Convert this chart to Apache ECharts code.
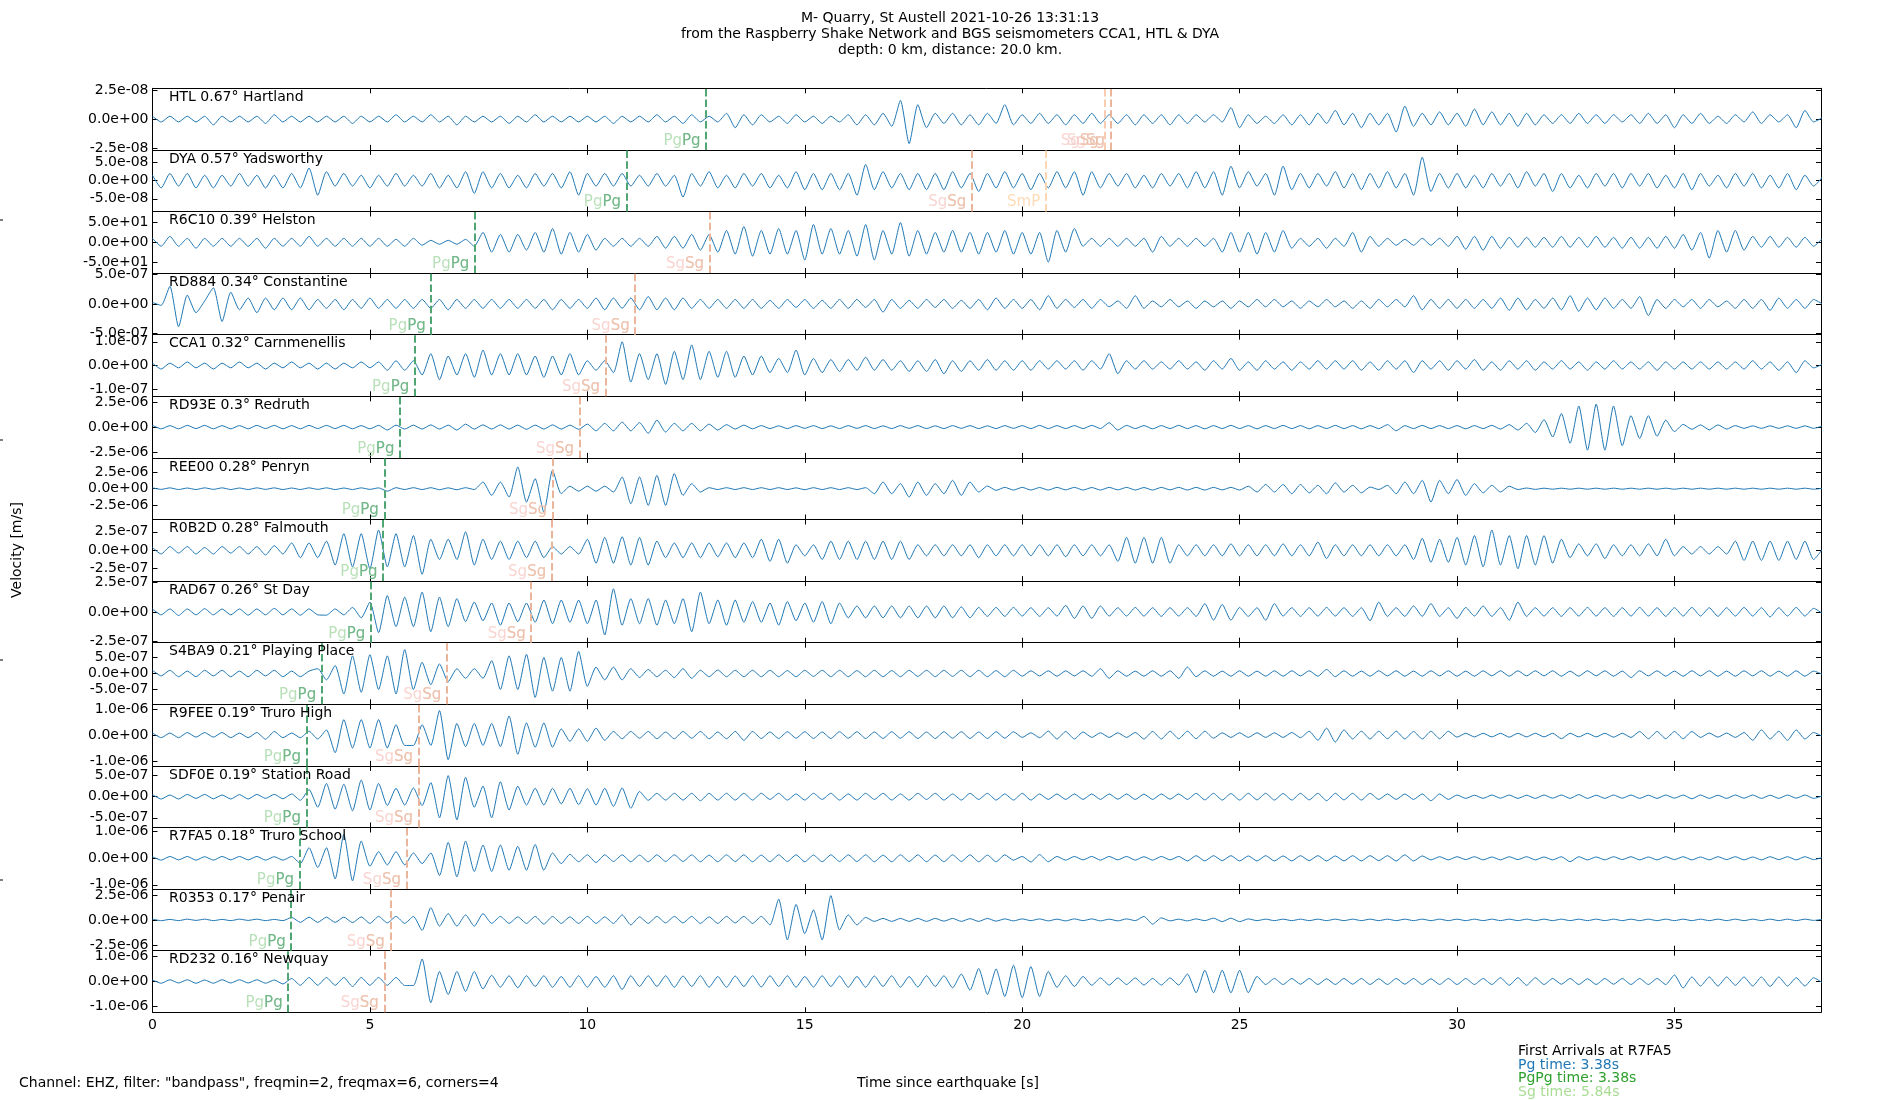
<!DOCTYPE html>
<html><head><meta charset="utf-8">
<script src="https://cdn.jsdelivr.net/npm/echarts@6.0.0/dist/echarts.min.js"></script>
<style>html,body{margin:0;padding:0;background:#fff}#c{width:1900px;height:1100px}</style>
</head><body><div id="c"></div><script>
// ---------- data ----------
const stations = ['HTL 0.67° Hartland','DYA 0.57° Yadsworthy','R6C10 0.39° Helston','RD884 0.34° Constantine','CCA1 0.32° Carnmenellis','RD93E 0.3° Redruth','REE00 0.28° Penryn','R0B2D 0.28° Falmouth','RAD67 0.26° St Day','S4BA9 0.21° Playing Place','R9FEE 0.19° Truro High','SDF0E 0.19° Station Road','R7FA5 0.18° Truro School','R0353 0.17° Penair','RD232 0.16° Newquay'];
const tickValue = [2.5e-8,5e-8,50,5e-7,1e-7,2.5e-6,2.5e-6,2.5e-7,2.5e-7,5e-7,1e-6,5e-7,1e-6,2.5e-6,1e-6];
const limitRatio = [1.07,1.7,1.56,1.05,1.3,1.24,1.84,1.67,1.04,1.92,1.19,1.46,1.16,1.23,1.23];
const pgTime = [12.73,10.9,7.41,6.41,6.03,5.69,5.33,5.3,5.02,3.89,3.54,3.54,3.38,3.19,3.12];
const sgTime = [22.03,18.84,12.81,11.10,10.42,9.82,9.2,9.18,8.71,6.77,6.12,6.12,5.84,5.47,5.33];
const extraSg = [{panel:0, t:21.89}];
const smpArrival = [{panel:1, t:20.54}];
const xTicks = [0,5,10,15,20,25,30,35];
const xMax = 38.37;
const sampleStep = 0.2;   // seconds between samples
const unitDiv = 10;       // trace values are in units of tickValue/10

const trHTL = [
1,-1,1,-1,1,-1,1,-2,1,-1,
1,-1,1,-1.5,1.5,-1,1,-1,1,-1,
1,-1,1,-1.5,1,-1,1,-1,1.5,-1,
1,-1,1.5,-1,1,-2,1,-1,1,-1,
1,-1.5,1,-1,1.5,-1,1,-1,1,-1,
1,-1,1,-1.5,1,-1,1,-1,1.5,-1,
1,-1.5,1.5,-1,1,-1,2,-3,1.5,-2,
1.5,-1,1,-1.5,1.5,-1,1,-1.5,1,-1,
1.5,-2,1.5,-2,2,-2.5,6.5,-8.5,5,-3,
2,-1.5,2,-2,1.5,-2,2,-1.5,5,-2,
1.5,-1.5,2,-1.5,1.5,-2,1.5,-1.5,2,-1.5,
1.5,-1.5,1.5,-2,1.5,-1.5,1.5,-2,1.5,-1.5,
1.5,-1,1.5,-1,4,-3,1.5,-1.5,1,-1.5,
1.5,-2,1.5,-2,2,-1.5,3,-2,2,-3,
2,-2,2,-4.5,4.5,-2.5,2,-2,2.5,-2,
2,-2.5,3.5,-2,2.5,-2,2,-2.5,2,-2,
1.5,-1.5,1.5,-1.5,2,-1.5,1.5,-1.5,1.5,-1,
1.5,-1.5,2,-1.5,1.5,-3,1.5,-1.5,2,-1.5,
1,-1.5,1.5,-1,2.5,-1.5,1.5,-1,1.5,-3,
3,-1,0.5];
const trDYA = [
3,-4,4,-3,4,-4,3,-4,3,-3,
4,-3,3,-4,3,-4,4,-4,7,-8,
5,-3,4,-3,3,-4,3,-3,4,-3,
3,-3,4,-4,3,-4,5,-7,5,-4,
4,-4,3,-4,4,-3,4,-4,5,-8,
4,-3,4,-3,4,-3,3,-3,4,-3,
3,-9,4,-3,5,-4,3,-4,4,-3,
4,-4,3,-4,5,-5,4,-5,4,-5,
4,-8,9,-5,5,-4,4,-5,4,-5,
4,-5,5,-4,4,-6,4,-4,5,-4,
4,-5,4,-4,5,-4,5,-8,5,-4,
4,-3,4,-4,3,-4,4,-3,4,-4,
5,-4,5,-8,8,-4,5,-3,4,-8,
8,-5,4,-4,4,-3,5,-4,4,-5,
4,-4,5,-4,4,-8,13,-6,4,-4,
4,-4,3,-4,4,-3,4,-4,5,-3,
4,-6,4,-4,3,-4,4,-3,4,-4,
4,-3,4,-4,3,-4,4,-5,4,-3,
3,-4,4,-3,4,-4,3,-4,4,-5,
3,-3,2];
const trR6C10 = [
2,-2,3,-2,2,-3,2,-2,2,-2,
2,-2,2,-3,2,-2,2,-2,3,-2,
2,-2,2,-2,2,-2,2,-2,1.5,-2,
2,-1.5,1,-1,1,-1,1.5,-2,5,-5,
4,-5,4,-4,5,-5,7,-6,5,-5,
4,-4,2,-2,2,-2,2,-2,3,-3,
3,-3,4,-4,4,-5,6,-6,8,-7,
6,-6,7,-6,6,-9,9,-6,7,-6,
6,-7,9,-9,6,-6,10,-7,6,-6,
5,-5,6,-5,5,-6,5,-5,6,-6,
5,-6,5,-10,6,-5,7,-2,2,-2,
2,-2,2,-2,2,-5,3,-2,2,-2,
2,-2,2,-5,5,-5,5,-6,5,-5,
6,-3,2,-2,2,-3,2,-2,5,-5,
3,-2,2,-1.5,1.5,-1.5,2,-1.5,2,-2,
3,-3.5,3,-4,3,-3,2.5,-2.5,2.5,-2.5,
2.5,-2.5,3,-2.5,2.5,-2.5,3,-2.5,2.5,-3,
2.5,-3,2.5,-3,3,-3,4,-4,5,-8,
6,-5,6,-4,3,-2.5,3,-2.5,2.5,-2.5,
2.5,-2,2];
const trRD884 = [
0.5,-0.5,6,-7.8,3,-3,1,5.5,-6,4,
-2,2,-3,2,-2,2,-2,2,-2,1.5,
-1.5,1.5,-2,1.5,-1.5,2,-1.5,1.5,-1.5,1.5,
-1.5,1.5,-1.5,1.5,-2,1.5,-1.5,1.5,-1.5,1.5,
-1.5,1.5,-1.5,1.5,-1.5,1.5,-2,1.5,-1.5,1.5,
-1.5,2,-2,2,-1.5,2,-2,2.5,-2,2,
-2,2,-1.5,1.5,-1.5,1.5,-1.5,1.5,-1.5,1.5,
-1.5,1.2,-1.5,1.5,-1.2,1.5,-1.5,1.2,-1.5,1.5,
-1.5,1.5,-1.2,1.5,-2.8,1.5,-1.5,1.2,-1.5,1.5,
-1.2,1.5,-1.5,1.2,-1.5,1.5,-2,2,-1.5,1.5,
-1.5,1.5,-2,2.8,-1.5,1.5,-1.2,1.5,-1.5,1.5,
-1,1,-1.5,2.8,-1.5,1,-1,1.5,-1,1,
-1.5,1,-1,1,-1.5,1,-1,1.5,-1,1.5,
-1,1,-1.5,1,-1,1.5,-1,1,-1.5,1,
-1.5,1.5,-1,1.5,-1,2.8,-2,1.5,-1.5,1.5,
-1.5,1.5,-1.5,1.5,-1.5,2,-2.2,2,-2,1.5,
-1.5,2,-2,2.8,-2.5,2,-2,2,-1.5,1.5,
-1.5,2.5,-4,1.5,-1.5,1.5,-1,1.5,-1.5,1.5,
-1,1,-1.5,1.5,-1.5,1.5,-2.2,2,-1.5,1.5,
-1.5,1.5,0];
const trCCA1 = [
1,-1.5,1,-1,1.5,-1,1,-1.5,1,-1,
1.5,-1,1,-1.5,1,-1,1.5,-1,1,-1.5,
1,-1.5,1,-1,1.5,-1,1.5,-2,2,-2,
2,-4,5,-6,4,-4,5,-5,6.5,-4,
5,-4,5,-4,4,-5,4,-4,5,-4,
2,-2,2,-3,10,-7,5,-6,5,-8,
6,-6,8.7,-6,6,-5,6,-5,4,-4,
4,-3,3,-3,6.5,-4,3,-3,2.5,-2.5,
2.5,-2,3.5,-2,2.5,-2,2,-2.5,2,-2.5,
2.5,-3.5,2,-2.5,2,-2,2.5,-2,2,-2,
2,-2,2,-1.5,2,-1.5,2,-2,2,-1.5,
5,-3.5,2,-1.5,2,-1.5,1.5,-1.5,2,-1.5,
1.5,-2,2,-1.5,3,-2,1.5,-2,2,-1.5,
1.5,-2,1.5,-1.5,2,-1.5,2,-1.5,2,-2,
1.5,-2,2,-1.5,2,-3,2,-1.5,2,-2,
2,-1.5,2.5,-2,1.5,-2,2,-1.5,2,-2,
1.5,-1.5,2,-1.5,1.5,-2,1.5,-1.5,2,-1.5,
1.5,-1.5,1.5,-2,1.5,-1.5,1.5,-1.5,1.5,-1.5,
1.5,-1.5,1.5,-1.5,2,-1.5,1.5,-2,1.5,-3,
2,-1,0.5];
const trRD93E = [
0.7,-0.7,0.6,-0.7,0.7,-0.6,0.7,-0.7,0.6,-0.7,
0.6,-0.7,0.7,-0.6,0.7,-0.7,0.6,-0.7,0.7,-0.6,
0.7,-0.6,0.7,-0.7,0.6,-0.7,0.7,-1.2,0.8,-0.8,
0.8,-0.8,0.9,-0.8,0.8,-1.2,1.2,-0.8,0.9,-0.8,
0.9,-0.8,0.8,-0.9,0.8,-0.8,0.9,-0.8,0.8,-0.9,
1.2,-1.5,1.5,-1.5,2,-1.5,1.8,-2.5,2.8,-2,
1.5,-1.5,1.5,-1.5,1.2,-1.2,1,-0.8,0.8,-0.7,
0.6,-0.6,0.5,-0.6,0.6,-0.5,0.6,-0.6,0.5,-0.6,
0.6,-0.5,0.6,-0.6,0.5,-0.6,0.6,-0.5,0.6,-0.6,
0.5,-0.6,0.6,-0.5,0.6,-0.6,0.5,-0.6,0.6,-0.5,
0.6,-0.6,0.7,-0.6,0.6,-0.6,0.6,-0.6,0.7,-0.6,
1.8,-1.2,0.7,-0.6,0.6,-0.7,0.6,-0.6,0.7,-0.6,
0.6,-0.7,0.6,-0.6,0.7,-0.6,0.6,-0.7,0.6,-0.6,
0.7,-0.6,0.6,-0.7,0.6,-0.6,0.7,-0.6,0.6,-0.7,
0.6,-0.6,1,-1.5,0.6,-0.6,0.7,-0.6,0.6,-0.6,
0.6,-0.7,0.6,-0.6,0.7,-0.8,1,-1.2,1.5,-2.2,
3,-4,5.5,-6.5,8.5,-9.3,9.3,-9.3,8.5,-7.5,
4.6,-4.6,4.6,-3.7,2.8,-1.8,1.1,-0.9,0.9,-1.1,
0.9,-0.8,0.6,-0.5,0.5,-0.5,0.5,-0.5,0.5,-0.5,
0.5,-0.5,0.4];
const trREE00 = [
0.5,-0.4,0.5,-0.5,0.4,-0.5,0.5,-0.4,0.5,-0.5,
0.4,-0.5,0.5,-0.4,0.5,-0.5,0.4,-0.5,0.5,-0.4,
0.5,-0.5,0.4,-0.5,0.5,-0.4,0.5,-1.5,0.6,-0.5,
0.6,-0.5,0.6,-0.6,0.5,-0.6,0.6,-0.5,4,-4,
4,-5,13,-8,6,-14,11,-3,1.5,-1.5,
1.5,-1.5,1.5,-2,7,-9,7,-10,8,-10,
9,-4,3,-2,0.6,-0.5,0.6,-0.5,0.6,-0.5,
0.6,-0.5,0.6,-0.5,0.5,-0.6,0.6,-0.5,0.6,-0.5,
0.6,-0.5,0.6,-3,4,-3,3,-5,4,-4,
3,-3,5,-4,4,-2,1.6,-1,0.8,-0.8,
0.8,-0.8,0.7,-0.8,0.8,-0.7,0.8,-0.8,0.7,-0.8,
0.8,-0.7,0.8,-0.8,0.7,-0.8,0.8,-0.7,0.8,-0.8,
0.8,-0.8,0.8,-0.7,0.8,-0.8,1.5,-2,2.5,-2,
2.5,-3,2.5,-2.5,2,-3,3.5,-2,2,-2.5,
1,-0.5,2,-3,4,-3,5,-8,5,-3,
5.5,-4,3,-2.5,2,-2,1.5,-0.5,0.4,-0.4,
0.3,-0.3,0.3,-0.3,0.3,-0.3,0.3,-0.3,0.3,-0.3,
0.3,-0.3,0.3,-0.3,0.3,-0.3,0.3,-0.3,0.3,-0.3,
0.3,-0.3,0.3,-0.3,0.3,-0.3,0.3,-0.3,0.3,-0.3,
0.3,-0.3,0.2];
const trR0B2D = [
1.5,-2,2,-1.5,2,-2,1.5,-2,2,-1.5,
2,-2,2,-2.5,2.5,-2,4,-4,4,-4,
5,-8,9,-9,9,-10,11,-9,9,-9,
8,-13,6,-5,6,-5,10,-8,6,-5,
5,-5,5,-4,5,-4,2,-2,2,-2,
6,-7,7,-7,7.4,-8,7,-8,5,-4,
4,-4,4,-4,4,-3.5,4,-4,4,-4,
6,-6,6,-7,3,-3,3,-5,5,-5,
5,-5,5,-5,5,-5,5,-5,3,-3,
3,-3,3,-3,3,-4,3,-3,3,-3,
3,-3,3,-3,3,-3.5,3,-3,3,-3,
3,-6,7,-7,7,-7,7,-7,3,-3,
3,-3,3,-3,3.5,-3,3,-3,3,-3,
3.5,-3,3,-3,4.5,-4.5,3,-3,3,-3,
3,-3,3,-3,3,-5,6.5,-6.5,6,-6.5,
7,-8,8,-9,11,-8,8,-10,8,-8,
8,-7,6,-4,3.5,-3,3.5,-4.5,3,-3,
3,-3,3.5,-3,6,-3,2,-2,2,-2,
2,-2,5,-5.5,5,-5.5,5,-5.5,5,-5,
5,-5,0.5];
const trRAD67 = [
1,-1,1,-1.2,1,-1,1.1,-1,1,-1,
1,-1.1,1,-1,1.2,-1,1,-1.1,1,-1,
-1.1,1,-1,1.5,-2,3.3,-7,5.5,-5,5,
-5,6.7,-6.7,5,-5,4.5,-3.3,3.3,-3,3,
-4.5,3,-3.3,3,-3.5,4,-4,4,-3.5,4,
-4,4,-7.8,7.8,-4.5,4.5,-4,4.5,-4.5,4,
-4,4.5,-6.7,6.7,-4,4,-4.5,4,-3.5,3.5,
-3.5,3,-4.5,3.5,-3,3,-3.5,3.5,-4,3,
-2,2,-2,2,-2,2,-2,2,-2,2,
-2,2,-2,1.7,-2,1.5,-1.5,1.5,-1.5,1.5,
-1.4,1.4,-1.5,1.4,-1.4,2.2,-2.2,2,-2.2,2,
-1.4,1.4,-1.4,1.5,-1.4,1.4,-1.5,1.4,-1.4,1.4,
-1.5,2.8,-2.8,2.5,-2.8,1.5,-1.5,1.4,-2.8,2.8,
-1.4,1.4,-1.5,1.4,-1.4,1.5,-1.4,1.4,-1.5,1.4,
-3,3.3,-1.5,1.4,-1.5,2,-1.5,2.8,-1.5,1.4,
-2.2,1.5,-1.4,2,-1.5,1.4,-2.8,3.3,-1.5,1.4,
-1.4,1.4,-1.5,1.4,-1.4,1.5,-1.4,1.4,-1.5,1.4,
-1.4,1.5,-1.4,1.4,-1.5,1.4,-1.4,1.5,-1.4,1.4,
-1.5,1.4,-1.4,1.5,-1.4,1.4,-1.7,1.4,-1.4,1.5,
-1.4,1.2,-0.5];
const trS4BA9 = [
2,-1.5,2,-2,1.5,-2,2,-1.5,2,-2,
1.5,-2,2,-1.5,2,-2,1.5,-2,1.5,3,
-4,5,-12.8,11,-11.7,11.7,-10,11,-12.8,14.9,
-10,7,-7,6,-5,3,-3,3,-3,8,
-10,11,-10,12,-14.9,10,-11,10,-11,13.8,
-8,4,-4,4,-4,3,-2.5,2.5,-2,2,
-2.5,3,-3,2,-2,2.2,-2,2,-2,2,
-2,2,-2,1.8,-2,2,-1.8,2,-2,2,
-2,1.8,-2,2,-2,1.8,-2,2,-1.8,2,
-2,2,-1.8,2,-2,2,-2,1.8,-2,2,
-1.7,1.7,-1.5,1.7,-1.7,1.7,-1.5,1.7,-1.7,3,
-3,1.7,-1.7,1.5,-1.7,1.7,-1.7,1.7,-3,4,
-2,1.7,-1.7,1.5,-1.7,1.7,-1.7,1.5,-1.7,1.7,
-1.7,1.7,-1.5,1.7,-1.7,2.5,-2,1.7,-1.7,1.5,
-1.7,1.7,-1.5,1.7,-1.7,1.5,-1.7,1.7,-1.5,1.7,
-1.7,1.5,-1.7,1.7,-1.5,1.7,-1.7,1.7,-1.5,1.7,
-1.5,1.7,-1.7,1.5,-1.7,1.7,-1.5,1.7,-1.7,1.5,
-2.5,1.7,-1.5,1.7,-1.7,1.5,-1.7,1.7,-1.5,1.7,
-1.7,1.5,-1.7,1.7,-1.5,1.7,-1.7,1.5,-1.7,1.7,
-1.7,1.5,-0.5];
const trR9FEE = [
0.8,-1,0.8,-1,1,-0.8,1,-0.8,1,-1,
0.8,-1,1,-1.6,1.4,-1,0.8,-1,1.5,-1.5,
2,-6.8,6,-5,6,-5,6,-5,4,-4,
-4,4,-4,9.5,-9.5,4.5,-4.5,4.5,-4,4.5,
-4.5,7.4,-7.4,4.7,-4.7,4.7,-4.7,2.4,-2.4,2.4,
-2.4,2.7,-2,1.4,-1.4,1.4,-1.2,1.4,-1.4,1.2,
-1.4,1.4,-1.2,1.4,-1.4,1.2,-1.4,1.4,-2,1.4,
-1.3,1.2,-1.3,1.3,-1.2,1.3,-1.3,1.2,-1.3,1.3,
-1.2,1.3,-1.3,1.2,-1.3,1.3,-1.2,1.3,-1.3,1.2,
-1.3,1.3,-1.2,1.3,-1.3,1.2,-1.3,1.3,-1.2,1.3,
-0.9,0.9,-1,1.5,-1.5,1.4,-1.5,1.2,-0.9,0.9,
-0.9,0.9,-0.9,1,-1.5,1.4,-1.5,1.5,-1.4,1.5,
-1.4,1.5,-1.2,0.9,-0.9,0.9,-0.9,0.9,-0.9,0.9,
-0.9,1,-1,1.5,-2,2.7,-2.7,2,-1.5,1.5,
-1.5,1.5,-1.4,1.5,-1.5,1.4,-1.5,1.5,-1.4,1.5,
-0.8,0.7,-0.7,0.7,-0.7,0.7,-0.8,0.7,-0.7,0.7,
-0.7,0.7,-1.4,0.7,-0.7,0.7,-0.7,0.7,-0.8,0.7,
-0.9,1.4,-1.4,1.4,-1.4,1.4,-1.4,1.4,-0.9,0.8,
-0.8,0.8,-0.9,1,-2,2,-1.5,1.5,-2,2,
-1.5,1,-0.5];
const trSDF0E = [
1,-1.1,0.8,-1.1,1.1,-0.8,1.1,-1,0.8,-1.1,
1,-1.1,1.1,-0.8,1.1,-1,1.3,-1.7,3.4,-5,
6.3,-5.9,5.9,-6.7,7.9,-6.3,6.3,-4.2,4,-4,
4.2,-4.2,6.7,-10,10,-11,9.2,-5,5,-10,
7.1,-6.3,5,-4,4,-4,4,-3.4,4,-3.8,
3.8,-4,4,-4.6,4.2,-5.5,2.5,-1.7,1.6,-1.6,
1.6,-1.6,1.6,-1.9,1.6,-1.6,1.6,-1.6,1.6,-1.6,
1.6,-1.3,1.6,-1.6,1.3,-1.6,1.6,-1.3,1.6,-1.6,
1.3,-1.6,1.6,-1.3,1.6,-1.6,1.3,-1.6,1.6,-1.3,
1.6,-1.6,1.3,-1.6,1.6,-1.3,1.6,-1.6,1.3,-1.6,
1.6,-1.6,1.3,-1.3,1.3,-1.3,1.3,-1.3,1.3,-1.3,
1.3,-1.2,1.3,-1.3,1.2,-1.3,1.3,-1.2,1.3,-1.3,
1.6,-1.5,1.6,-1.6,1.5,-1.6,1.6,-1.5,1.6,-1.6,
1.5,-1.6,1.6,-1.5,1.6,-1.9,1.6,-1.5,1.6,-1.6,
1.6,-1.3,1.3,-1.3,1.3,-1.3,1.3,-1.9,1.3,-1.3,
0.8,-0.8,0.7,-0.8,0.8,-0.7,0.8,-0.8,0.7,-0.8,
0.8,-0.7,0.8,-0.8,1,-0.8,0.7,-0.8,0.8,-0.7,
0.8,-0.8,0.7,-0.8,0.8,-0.7,0.8,-1,0.8,-0.8,
0.7,-0.8,0.8,-0.7,0.8,-0.8,0.7,-0.8,0.8,-0.7,
0.8,-0.8,0.4];
const trR7FA5 = [
0.6,-0.7,0.7,-0.6,0.7,-0.7,0.6,-0.7,0.7,-0.6,
0.7,-0.6,0.7,-0.7,0.6,-0.7,0.7,-2,4,-3.5,
4,-7.8,9,-8.5,6.5,-3,2.5,-2.5,2.5,-2.5,
2,-2,2,-6.5,6,-7,6.5,-5,5,-5,
5,-4.5,4.5,-4.5,5.2,-4.5,2,-2,1.5,-1.3,
1.3,-1.6,1.3,-1.2,1.3,-1.3,1.2,-1.3,1.3,-1.2,
1.3,-1.2,1.3,-1.3,1.2,-1.3,1.3,-1.2,1.3,-1.3,
1.2,-1.3,1.3,-1.2,1.3,-1.3,1.2,-1.3,1.3,-1.2,
1.3,-1.2,1.3,-1.3,1.2,-1.3,1.3,-1.2,1.3,-1.3,
1.2,-1.3,1.3,-1.2,1.3,-1.3,1.2,-1.3,1.3,-0.7,
0.7,-1.4,1.4,-1.3,0.7,-0.7,0.7,-0.6,0.7,-0.7,
0.7,-0.6,0.7,-0.7,0.6,-0.7,0.7,-0.6,0.7,-1,
1,-1,1,-0.9,1,-1,0.9,-1,1,-1,
0.9,-1,1,-0.9,1,-1,0.9,-1,1,-1,
1,-0.9,1,-1,1.3,-1,0.9,-0.6,0.6,-0.6,
0.6,-0.5,0.6,-0.6,0.5,-0.6,0.6,-0.5,0.6,-0.6,
0.5,-0.6,0.6,-1.3,0.6,-0.6,0.5,-0.6,0.6,-0.5,
0.6,-0.6,0.5,-0.6,0.6,-0.5,0.6,-0.6,0.5,-0.6,
0.6,-0.5,0.6,-0.6,0.5,-0.6,0.6,-0.5,0.6,-0.6,
0.6,-0.5,0.3];
const trR0353 = [
0.3,-0.3,0.2,-0.3,0.3,-0.2,0.3,-0.3,0.2,-0.3,
0.3,-0.2,0.3,-0.3,0.2,-0.3,1,-1,1.1,-1,
1.1,-1,1.1,-1.1,1.2,-1.4,1.4,-1.2,1.4,-1.4,
1.4,-4.2,4.9,-2.5,2.5,-2.5,2,-2.5,2.5,-1.4,
1.4,-1.4,1.2,-1.4,1.4,-1.7,1.4,-1.4,1.2,-1.4,
1.4,-1.4,1.2,-1.4,2,-2,1.2,-1.4,1.4,-1.2,
1.4,-1.2,1.4,-1.4,1.2,-1.4,1.4,-1.2,1.4,-1.4,
1.4,-2,8.3,-8,6.2,-5.5,4,-8,9.7,-4,
2,-2,1,-0.6,0.6,-0.6,0.6,-0.6,0.6,-0.6,
0.6,-0.5,0.6,-0.6,0.5,-0.6,0.6,-0.5,0.4,-0.4,
0.4,-0.3,0.4,-0.4,0.3,-0.4,0.4,-0.3,0.4,-0.4,
0.3,-0.4,0.4,-0.3,1.4,-1.7,0.8,-0.4,0.3,-0.4,
0.4,-0.3,0.7,-0.7,0.7,-0.7,0.4,-0.3,0.3,-0.3,
0.3,-0.3,0.3,-0.3,0.3,-0.3,0.3,-0.3,0.3,-0.3,
0.3,-0.3,0.3,-0.3,0.3,-0.3,0.3,-0.3,0.3,-0.3,
0.3,-0.3,0.3,-0.3,0.3,-0.3,0.3,-0.3,0.3,-0.3,
0.3,-0.3,0.3,-0.3,0.3,-0.3,0.3,-0.3,0.3,-0.3,
0.3,-0.3,0.3,-0.3,0.3,-0.3,0.3,-0.3,0.3,-0.3,
0.3,-0.3,0.3,-0.3,0.3,-0.3,0.3,-0.3,0.3,-0.3,
0.3,-0.2,0.2];
const trRD232 = [
0.6,-0.7,0.7,-0.6,0.7,-0.7,0.6,-0.7,0.7,-0.6,
0.7,-0.6,0.7,-0.7,0.6,-1,1.2,-1.5,1.6,-1.5,
1.6,-1.5,1.6,-2,1.6,-1.5,1.6,-1.5,1.6,-1.6,
-1.6,9,-8.5,4,-5.2,4,-4,4,-3,2.5,
-2.3,2.3,-2.5,2.3,-2,2.3,-2.3,2,-2.3,2.3,
-2.3,2,-2.3,2.3,-3.2,2.3,-2,2.3,-2,2.3,
-2.3,2.2,-2,2.3,-2.3,2,-2.3,2.2,-2,2.3,
-2.2,2.3,-2,2.3,-2.3,2,-2.2,2.3,-2,2.2,
-2.3,2,-2.3,2.2,-2,2.3,-2.3,2,-2.2,2.3,
-2,2.3,-2.5,3,-3.5,5.2,-5.2,5,-6,6.5,
-6.5,6,-6,4,-2.3,2.3,-2,2,-1.5,1.4,
-1.4,1.4,-1.2,1.4,-1.4,1.2,-1.4,1.4,-1.4,3,
-4.5,4.5,-4.5,4.5,-4.5,4.5,-4.5,2,-1.2,1.2,
-1.2,1.2,-1.1,1.2,-1.2,1.1,-1.2,1.2,-1.1,1.2,
-1.2,1.1,-1.2,1.2,-1.1,1.2,-1.2,1.1,-1.2,1.2,
-1.2,1.2,-1.2,1.2,-1.2,1.5,-1.5,1.5,-1.5,1.5,
-1.2,1.2,-1.1,1.2,-1.2,1.1,-1.2,1.2,-1.1,1.2,
-1.2,1.2,-1.2,1.2,-1.2,2.6,-2.6,1.8,-1.8,1.8,
-1.8,1.8,-1.5,1.8,-1.8,1.8,-2,1.8,-1.8,1.5,
-1.8,1.5,-0.5];
const traces = [trHTL,trDYA,trR6C10,trRD884,trCCA1,trRD93E,trREE00,trR0B2D,trRAD67,trS4BA9,trR9FEE,trSDF0E,trR7FA5,trR0353,trRD232];
const refStation = 12;

// ---------- layout / style ----------
const FONT = 'DejaVu Sans';
const plotLeft = 152.5, plotRight = 1821, plotTop = 88.3, plotBottom = 1012.3;
const panelH = (plotBottom - plotTop) / stations.length;
const waveColor = '#1f77b4';
const pgLine = '#4fa673', sgLine = '#eab59b', smpLine = '#fcd6ae', sgExtraLine = '#f7ccb2';
const pgLight = '#a6d8a6', pgDark = '#62ad80', sgLight = '#f8c9c4', sgDark = '#e8bea4', smpCol = '#fdd2a5';
const dash = [7.5, 3.2];

function sci(v) {
  if (Math.abs(v) < 1e-300) return '0.0e+00';
  let s = Number(v).toExponential(1);
  let [m, e] = s.split('e');
  let sign = e[0] === '-' ? '-' : '+';
  let d = e.replace(/^[+-]/, '');
  if (d.length < 2) d = '0' + d;
  return m + 'e' + sign + d;
}

const grid = [], xAxis = [], yAxis = [], series = [], graphic = [];
const axisLineStyle = {show: true, onZero: false, lineStyle: {color: '#000', width: 1}};
const tickBase = {show: true, inside: true, length: 5, lineStyle: {color: '#000', width: 1}};

function labelItem(t, y, text, color) {
  return {value: [t, y], label: {show: true, position: 'left', distance: 5, offset: [0, -9],
    formatter: text, color: color, fontFamily: FONT, fontSize: 15}};
}

stations.forEach((name, i) => {
  const top = plotTop + i * panelH;
  const a = tickValue[i], L = a * limitRatio[i];
  grid.push({left: plotLeft, top: top, width: plotRight - plotLeft, height: panelH});
  xAxis.push({gridIndex: i, type: 'value', min: 0, max: xMax, position: 'bottom',
    axisLine: axisLineStyle, axisTick: Object.assign({}, tickBase, {customValues: xTicks}),
    axisLabel: {show: i === stations.length - 1, customValues: xTicks, color: '#000', fontFamily: FONT, fontSize: 14, margin: 6},
    splitLine: {show: false}});
  xAxis.push({gridIndex: i, type: 'value', min: 0, max: xMax, position: 'top',
    axisLine: axisLineStyle, axisTick: Object.assign({}, tickBase, {customValues: xTicks}),
    axisLabel: {show: false}, splitLine: {show: false}});
  const yt = [-a, 0, a];
  yAxis.push({gridIndex: i, type: 'value', min: -L, max: L, position: 'left',
    axisLine: axisLineStyle, axisTick: Object.assign({}, tickBase, {customValues: yt}),
    axisLabel: {show: true, customValues: yt, formatter: sci, color: '#000', fontFamily: FONT, fontSize: 14, margin: 4},
    splitLine: {show: false}});
  yAxis.push({gridIndex: i, type: 'value', min: -L, max: L, position: 'right',
    axisLine: axisLineStyle, axisTick: Object.assign({}, tickBase, {customValues: yt}),
    axisLabel: {show: false}, splitLine: {show: false}});

  const lines = [
    {xAxis: pgTime[i], lineStyle: {color: pgLine, type: dash, width: 2}},
    {xAxis: sgTime[i], lineStyle: {color: sgLine, type: dash, width: 2}}
  ];
  const labels = [
    labelItem(pgTime[i], -L, 'PgPg', pgLight), labelItem(pgTime[i], -L, 'Pg', pgDark),
    labelItem(sgTime[i], -L, 'SgSg', sgLight), labelItem(sgTime[i], -L, 'Sg', sgDark)
  ];
  extraSg.filter(e => e.panel === i).forEach(e => {
    lines.push({xAxis: e.t, lineStyle: {color: sgExtraLine, type: dash, width: 2}});
    labels.push(labelItem(e.t, -L, 'SgSg', sgLight), labelItem(e.t, -L, 'Sg', sgDark));
  });
  smpArrival.filter(e => e.panel === i).forEach(e => {
    lines.push({xAxis: e.t, lineStyle: {color: smpLine, type: dash, width: 2}});
    labels.push(labelItem(e.t, -L, 'SmP', smpCol));
  });

  series.push({type: 'line', xAxisIndex: 2 * i, yAxisIndex: 2 * i,
    data: traces[i].map((v, k) => [Math.round(k * sampleStep * 100) / 100, v * a / unitDiv]),
    showSymbol: false, symbol: 'none', smooth: 0.2, silent: true, clip: true, z: 2,
    lineStyle: {color: waveColor, width: 1},
    markLine: {symbol: ['none', 'none'], silent: true, animation: false, label: {show: false},
      emphasis: {disabled: true}, data: lines, z: 3}});
  series.push({type: 'scatter', xAxisIndex: 2 * i, yAxisIndex: 2 * i, symbolSize: 1, silent: true, clip: false, z: 4,
    itemStyle: {color: 'rgba(0,0,0,0)'}, data: labels});

  graphic.push({type: 'text', x: 169, y: top + 9, z: 10,
    style: {text: name, fill: '#000', font: '14px "DejaVu Sans"', textAlign: 'left', align: 'left', textVerticalAlign: 'middle', verticalAlign: 'middle'}});
});

function txt(x, y, text, color, align) {
  return {type: 'text', x: x, y: y, z: 10,
    style: {text: text, fill: color || '#000', font: '14px "DejaVu Sans"', textAlign: align || 'left', align: align || 'left', textVerticalAlign: 'middle', verticalAlign: 'middle'}};
}
graphic.push(txt(950, 18, 'M- Quarry, St Austell 2021-10-26 13:31:13', '#000', 'center'));
graphic.push(txt(950, 34.5, 'from the Raspberry Shake Network and BGS seismometers CCA1, HTL & DYA', '#000', 'center'));
graphic.push(txt(950, 50.5, 'depth: 0 km, distance: 20.0 km.', '#000', 'center'));
graphic.push(txt(19, 1083.5, 'Channel: EHZ, filter: "bandpass", freqmin=2, freqmax=6, corners=4'));
graphic.push(txt(948, 1083.5, 'Time since earthquake [s]', '#000', 'center'));
graphic.push(txt(1518, 1051.5, 'First Arrivals at ' + stations[refStation].split(' ')[0]));
graphic.push(txt(1518, 1065, 'Pg time: ' + pgTime[refStation].toFixed(2) + 's', '#1f77b4'));
graphic.push(txt(1518, 1078.5, 'PgPg time: ' + pgTime[refStation].toFixed(2) + 's', '#2ca02c'));
graphic.push(txt(1518, 1092, 'Sg time: ' + sgTime[refStation].toFixed(2) + 's', '#a9dd93'));
graphic.push({type: 'text', x: 17, y: 550, rotation: Math.PI / 2, z: 10,
  style: {text: 'Velocity [m/s]', fill: '#000', font: '14px "DejaVu Sans"', textAlign: 'center', align: 'center', textVerticalAlign: 'middle', verticalAlign: 'middle'}});
[220, 440, 660, 880].forEach(y => graphic.push({type: 'line', shape: {x1: 0, y1: y, x2: 3, y2: y}, style: {stroke: '#000', lineWidth: 1}}));

const chart = echarts.init(document.getElementById('c'), null, {renderer: 'canvas'});
chart.setOption({animation: false, backgroundColor: '#fff', grid, xAxis, yAxis, series, graphic});
</script></body></html>
